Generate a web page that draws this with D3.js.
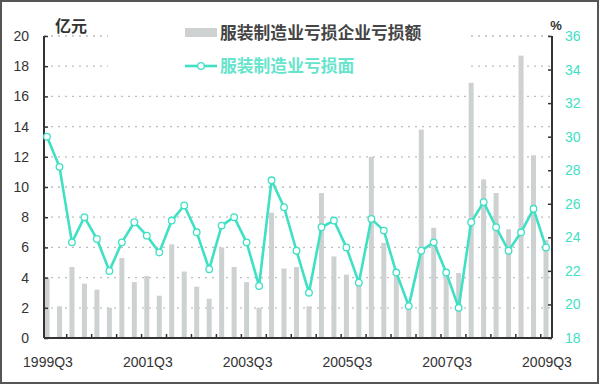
<!DOCTYPE html>
<html><head><meta charset="utf-8">
<script src="https://cdn.jsdelivr.net/npm/d3@7/dist/d3.min.js"></script>
<style>body{margin:0;background:#fff}svg{display:block}</style>
</head><body>
<svg id="c" width="600" height="385"></svg>
<script>
const categories = ["1999Q3","1999Q4","2000Q1","2000Q2","2000Q3","2000Q4","2001Q1","2001Q2","2001Q3","2001Q4",
"2002Q1","2002Q2","2002Q3","2002Q4","2003Q1","2003Q2","2003Q3","2003Q4","2004Q1","2004Q2",
"2004Q3","2004Q4","2005Q1","2005Q2","2005Q3","2005Q4","2006Q1","2006Q2","2006Q3","2006Q4",
"2007Q1","2007Q2","2007Q3","2007Q4","2008Q1","2008Q2","2008Q3","2008Q4","2009Q1","2009Q2","2009Q3"];
const lossAmount = [4.0,2.1,4.7,3.6,3.2,2.0,5.3,3.7,4.1,2.8,
6.2,4.4,3.4,2.6,6.0,4.7,3.7,2.0,8.3,4.6,
4.7,2.1,9.6,5.4,4.2,3.9,12.0,6.3,4.1,1.9,
13.8,7.3,4.5,4.3,16.9,10.5,9.6,7.2,18.7,12.1,6.5];
const lossRatio = [30.0,28.2,23.7,25.2,23.9,22.0,23.7,24.9,24.1,23.1,
25.0,25.9,24.3,22.1,24.7,25.2,23.7,21.1,27.4,25.8,
23.2,20.7,24.6,25.0,23.4,21.3,25.1,24.4,21.9,19.9,
23.2,23.7,21.9,19.8,24.9,26.1,24.6,23.2,24.3,25.7,23.4];
const xTickLabels = ["1999Q3","2001Q3","2003Q3","2005Q3","2007Q3","2009Q3"];
const leftTicks = [0,2,4,6,8,10,12,14,16,18,20];
const rightTicks = [18,20,22,24,26,28,30,32,34,36];
const seriesNames = ["服装制造业亏损企业亏损额","服装制造业亏损面"];
const units = ["亿元","%"];

const svg = d3.select("#c");
const L = 44, R = 552, T = 36, B = 338;
const cyan = "#3fe0c4", grey = "#cdd1d1", dark = "#333";
const x = d3.scalePoint().domain(categories).range([47, 546]);
const yL = d3.scaleLinear().domain([0,20]).range([B,T]);
const yR = d3.scaleLinear().domain([18,36]).range([B,T]);
const font = "'Liberation Sans', Arial, sans-serif";
const cjk = "'Noto Sans CJK SC', sans-serif";

// outer frame
svg.append("rect").attr("x",1).attr("y",1).attr("width",597).attr("height",382)
  .attr("fill","#fff").attr("stroke","#555").attr("stroke-width",2);

// gridlines
svg.append("g").selectAll("line").data(leftTicks.filter(d=>d>0)).join("line")
  .attr("x1",L).attr("x2",R).attr("y1",d=>yL(d)).attr("y2",d=>yL(d))
  .attr("stroke","#bdbdbd").attr("stroke-width",1.3).attr("stroke-dasharray","2,5");

// legend background
svg.append("rect").attr("x",108).attr("y",16).attr("width",362).attr("height",62).attr("fill","#fff");

// bars
svg.append("g").selectAll("rect").data(lossAmount).join("rect")
  .attr("x",(d,i)=>x(categories[i])-2.5).attr("width",5)
  .attr("y",d=>yL(d)).attr("height",d=>B-yL(d)).attr("fill",grey);

// axes
const axL = svg.append("g").attr("transform",`translate(${L},0)`)
  .call(d3.axisRight(yL).tickValues(leftTicks).tickSize(4).tickFormat(""));
axL.select(".domain").remove();
svg.append("line").attr("x1",L).attr("x2",L).attr("y1",T).attr("y2",B).attr("stroke",dark).attr("stroke-width",2);
axL.selectAll("line").attr("stroke",dark).attr("stroke-width",1.5);
const axR = svg.append("g").attr("transform",`translate(${R},0)`)
  .call(d3.axisLeft(yR).tickValues(rightTicks).tickSize(4).tickFormat(""));
axR.select(".domain").remove();
svg.append("line").attr("x1",R).attr("x2",R).attr("y1",T).attr("y2",B).attr("stroke",dark).attr("stroke-width",2);
axR.selectAll("line").attr("stroke",dark).attr("stroke-width",1.5);
svg.append("line").attr("x1",L).attr("x2",R).attr("y1",B).attr("y2",B).attr("stroke",dark).attr("stroke-width",2);
// x ticks between categories every 2 quarters
const step = x.step();
svg.append("g").selectAll("line").data(categories.filter((d,i)=>i%2===1 && i<categories.length-1)).join("line")
  .attr("x1",d=>x(d)+step/2+1).attr("x2",d=>x(d)+step/2+1).attr("y1",B).attr("y2",B-4)
  .attr("stroke",dark).attr("stroke-width",1.5);

// tick labels
svg.append("g").selectAll("text").data(leftTicks).join("text")
  .attr("x",29).attr("y",d=>yL(d)+5).attr("text-anchor","end")
  .attr("font-family",font).attr("font-size",14).attr("fill",dark).text(d=>d);
svg.append("g").selectAll("text").data(rightTicks).join("text")
  .attr("x",565).attr("y",d=>yR(d)+5).attr("text-anchor","start")
  .attr("font-family",font).attr("font-size",14).attr("fill",cyan).text(d=>d);
svg.append("g").selectAll("text").data(xTickLabels).join("text")
  .attr("x",d=>x(d)+1).attr("y",367).attr("text-anchor","middle")
  .attr("font-family",font).attr("font-size",14).attr("fill",dark).text(d=>d);

// units
svg.append("text").attr("x",71).attr("y",32).attr("text-anchor","middle")
  .attr("font-family",cjk).attr("font-weight","bold").attr("font-size",16).attr("fill",dark).text(units[0]);
svg.append("text").attr("x",556).attr("y",30).attr("text-anchor","middle")
  .attr("font-family",font).attr("font-weight","bold").attr("font-size",13).attr("fill",dark).text(units[1]);

// line
const line = d3.line().x((d,i)=>x(categories[i])).y(d=>yR(d));
svg.append("path").datum(lossRatio).attr("d",line).attr("fill","none")
  .attr("stroke",cyan).attr("stroke-width",2.6).attr("stroke-linejoin","round");
svg.append("g").selectAll("circle").data(lossRatio).join("circle")
  .attr("cx",(d,i)=>x(categories[i])).attr("cy",d=>yR(d)).attr("r",3.3)
  .attr("fill","#fff").attr("stroke",cyan).attr("stroke-width",1.3);

// legend
svg.append("rect").attr("x",185).attr("y",28).attr("width",32).attr("height",9).attr("fill",grey);
svg.append("text").attr("x",220).attr("y",39).attr("font-family",cjk).attr("font-weight","bold")
  .attr("font-size",16.8).attr("fill","#444").text(seriesNames[0]);
svg.append("line").attr("x1",185).attr("x2",217).attr("y1",66).attr("y2",66).attr("stroke",cyan).attr("stroke-width",2.6);
svg.append("circle").attr("cx",201).attr("cy",66).attr("r",3.3).attr("fill","#fff").attr("stroke",cyan).attr("stroke-width",1.3);
svg.append("text").attr("x",220).attr("y",72).attr("font-family",cjk).attr("font-weight","bold")
  .attr("font-size",16.8).attr("fill","#66e4cc").text(seriesNames[1]);
</script>
</body></html>
